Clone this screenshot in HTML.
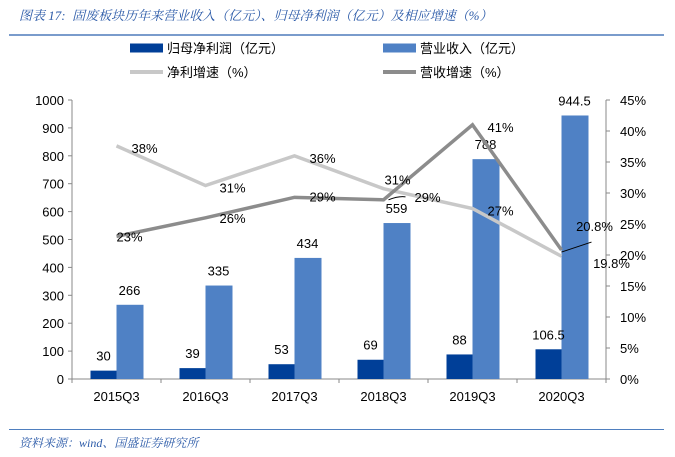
<!DOCTYPE html>
<html><head><meta charset="utf-8">
<style>
body{margin:0;background:#fff;}
#wrap{position:relative;width:675px;height:457px;overflow:hidden;font-family:"Liberation Sans","Noto Sans CJK SC",sans-serif;}
.t{position:absolute;white-space:nowrap;}
</style></head>
<body>
<div id="wrap">
<div class="t" style="left:19px;top:5px;font-size:13px;color:#2b5aa8;font-style:italic;font-family:'Liberation Serif','Noto Serif CJK SC',serif;">图表 17:&nbsp; 固废板块历年来营业收入（亿元）、归母净利润（亿元）及相应增速（%）</div>
<div style="position:absolute;left:9px;top:34px;width:655px;height:2px;background:#7a9ccc;"></div>
<div style="position:absolute;left:9px;top:429px;width:655px;height:1px;background:#4f7fbf;"></div>
<div class="t" style="left:19px;top:434px;font-size:12px;color:#2b5aa8;font-style:italic;font-family:'Liberation Serif','Noto Serif CJK SC',serif;">资料来源：wind、国盛证券研究所</div>
<svg id="svg" width="675" height="457" style="position:absolute;left:0;top:0"></svg>
</div>
<script>
const categories=["2015Q3","2016Q3","2017Q3","2018Q3","2019Q3","2020Q3"];
const netProfit=[30,39,53,69,88,106.5];
const revenue=[266,335,434,559,788,944.5];
const netGrowth=[37.6,31.2,36,30.7,27.5,19.8];
const revGrowth=[23,26,29.3,28.9,41,20.8];
const netGrowthLabels=["38%","31%","36%","31%","27%","19.8%"];
const revGrowthLabels=["23%","26%","29%","29%","41%","20.8%"];
const netProfitLabels=["30","39","53","69","88","106.5"];
const revenueLabels=["266","335","434","559","788","944.5"];
const leftTicks=[0,100,200,300,400,500,600,700,800,900,1000];
const rightTicks=[0,5,10,15,20,25,30,35,40,45];

const NS="http://www.w3.org/2000/svg";
const svg=document.getElementById('svg');
const X0=72,X1=606,Y0=379,Y1=100;
const step=(X1-X0)/categories.length;
const cx=i=>X0+step*(i+0.5);
const yL=v=>Y0-(v/1000)*(Y0-Y1);
const yR=v=>Y0-(v/45)*(Y0-Y1);
function mk(tag,attrs){const e=document.createElementNS(NS,tag);for(const k in attrs)e.setAttribute(k,attrs[k]);svg.appendChild(e);return e;}
function txt(x,y,s,anchor){const e=mk('text',{x:x,y:y,'font-size':13,'font-family':'Liberation Sans, sans-serif',fill:'#000','text-anchor':anchor||'middle'});e.textContent=s;return e;}

let a=mk('line',{x1:X0,y1:Y1,x2:X0,y2:Y0,stroke:'#888'});


a=mk('line',{x1:X1,y1:Y1,x2:X1,y2:Y0,stroke:'#888'});


a=mk('line',{x1:X0,y1:Y0,x2:X1,y2:Y0,stroke:'#888'});


leftTicks.forEach(v=>{mk('line',{x1:X0-4,y1:yL(v),x2:X0,y2:yL(v),stroke:'#888'});
 const t=txt(X0-8,yL(v)+5,String(v),'end');
 
 });
rightTicks.forEach(v=>{mk('line',{x1:X1,y1:yR(v),x2:X1+4,y2:yR(v),stroke:'#888'});
 const t=txt(X1+14,yR(v)+5,v+'%','start');
 
 });
for(let i=0;i<=categories.length;i++){mk('line',{x1:X0+step*i,y1:Y0,x2:X0+step*i,y2:Y0+4,stroke:'#888'});}
categories.forEach((c,i)=>{const t=txt(cx(i),Y0+22,c);
 
 });

const BW=26;
categories.forEach((c,i)=>{
 let b=mk('rect',{x:cx(i)-BW,y:yL(netProfit[i]),width:BW,height:Y0-yL(netProfit[i]),fill:'#003f98'});
 
 
 b=mk('rect',{x:cx(i),y:yL(revenue[i]),width:BW+1,height:Y0-yL(revenue[i]),fill:'#4f81c5'});
 
 
 let t=txt(cx(i)-BW/2,yL(netProfit[i])-10,netProfitLabels[i]);
 
 
 t=txt(cx(i)+BW/2,yL(revenue[i])-10,revenueLabels[i]);
 
 
});

function line(vals,color,name){const p=mk('polyline',{points:vals.map((v,i)=>cx(i)+','+yR(v)).join(' '),fill:'none',stroke:color,'stroke-width':3.5});
 
 }
line(netGrowth,'#c8c8c8','net-growth-line');
line(revGrowth,'#8c8c8c','revenue-growth-line');

const netOff=[[28,2],[27,2],[28,2],[14,-9],[28,2],[50,7]];
const revOff=[[13,0],[27,0],[28,-1],[44,-3],[28,2],[33,-24]];
netGrowth.forEach((v,i)=>{const t=txt(cx(i)+netOff[i][0],yR(v)+netOff[i][1]+5,netGrowthLabels[i]);
 
 });
revGrowth.forEach((v,i)=>{const t=txt(cx(i)+revOff[i][0],yR(v)+revOff[i][1]+5,revGrowthLabels[i]);
 
 });
mk('line',{x1:cx(5),y1:yR(revGrowth[5])+2,x2:cx(5)+30,y2:yR(revGrowth[5])-8,stroke:'#000'});
mk('path',{d:`M${cx(3)+5} ${yR(revGrowth[3])} Q${cx(3)+15} ${yR(revGrowth[3])-4} ${cx(3)+22} ${yR(revGrowth[3])-3}`,stroke:'#000',fill:'none'});

function leg(x,y,color,h,label,name){const r=mk('rect',{x:x,y:y-h/2,width:33,height:h,fill:color});
 
 
 const t=mk('text',{x:x+37,y:y+5,'font-size':13,'font-family':'Liberation Sans, Noto Sans CJK SC, sans-serif'});
 t.textContent=label;
 
 }
leg(130,48,'#003f98',9,'归母净利润（亿元）','legend-net-profit');
leg(383,48,'#4f81c5',9,'营业收入（亿元）','legend-revenue');
leg(130,72,'#c8c8c8',4,'净利增速（%）','legend-net-growth');
leg(383,72,'#8c8c8c',4,'营收增速（%）','legend-revenue-growth');
</script>
</body></html>
